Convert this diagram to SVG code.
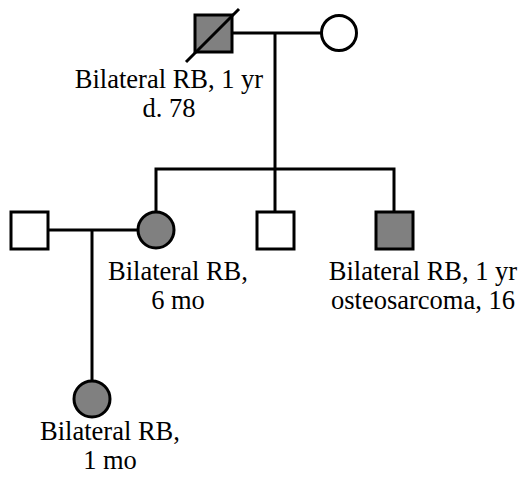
<svg xmlns="http://www.w3.org/2000/svg" width="523" height="478" viewBox="0 0 523 478">
<style>
.n{stroke:#000;stroke-width:3;fill:#fff}
.a{fill:#808080}
.c{stroke:#000;stroke-width:3;fill:none}
.t{font-family:'Liberation Serif','DejaVu Serif',serif;font-size:26.5px;fill:#000;text-anchor:middle}
</style>
<rect width="523" height="478" fill="#fff"/>
<g id="connectors">
<path class="c" d="M232 33H321"/>
<path class="c" d="M275 33V169"/>
<path class="c" d="M156 212V169H394V212"/>
<path class="c" d="M275 169V212"/>
<path class="c" d="M48 230H138"/>
<path class="c" d="M92 230V381"/>
</g>
<g id="grandfather">
<rect class="n a" x="195" y="15" width="37" height="37"/>
<line x1="186" y1="62" x2="239" y2="9" stroke="#000" stroke-width="3"/>
<text class="t" x="169" y="88">Bilateral RB, 1 yr</text>
<text class="t" x="169" y="117">d. 78</text>
</g>
<g id="grandmother">
<circle class="n" cx="339" cy="33" r="17.5"/>
</g>
<g id="daughter">
<circle class="n a" cx="156" cy="230" r="18"/>
<text class="t" x="178" y="280">Bilateral RB,</text>
<text class="t" x="178" y="309">6 mo</text>
</g>
<g id="spouse">
<rect class="n" x="11" y="212" width="37" height="37"/>
</g>
<g id="son">
<rect class="n" x="257" y="212" width="37" height="37"/>
</g>
<g id="affected-son">
<rect class="n a" x="376" y="212" width="37" height="37"/>
<text class="t" x="423" y="280">Bilateral RB, 1 yr</text>
<text class="t" x="423" y="309">osteosarcoma, 16</text>
</g>
<g id="granddaughter">
<circle class="n a" cx="92" cy="399" r="18"/>
<text class="t" x="110" y="440">Bilateral RB,</text>
<text class="t" x="110" y="469">1 mo</text>
</g>
</svg>
